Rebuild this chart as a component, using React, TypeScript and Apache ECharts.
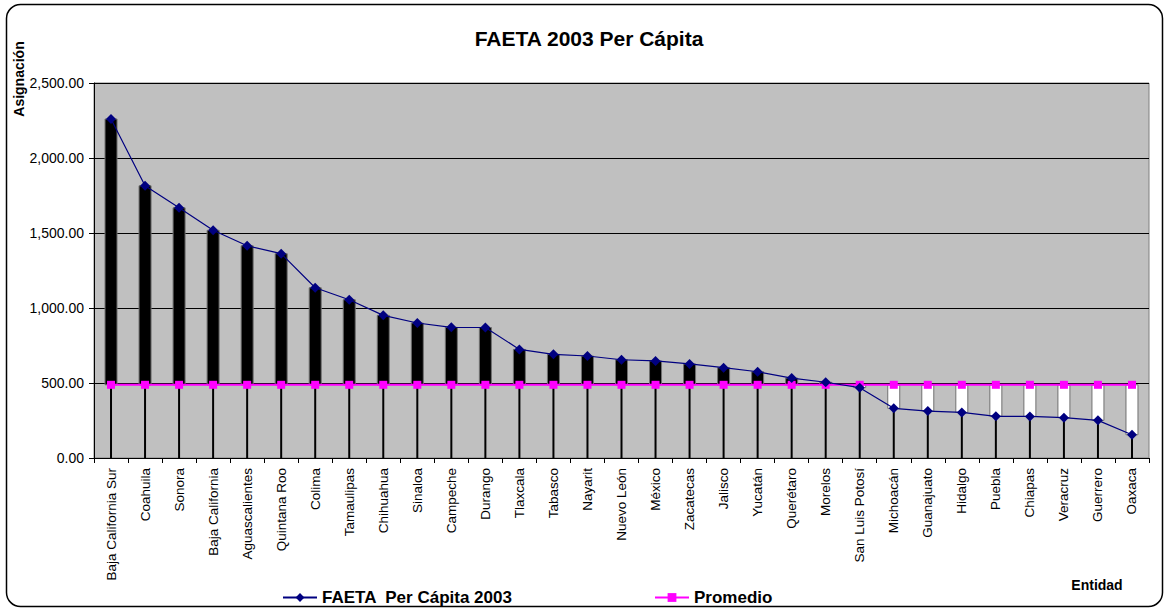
import React, { useEffect, useRef } from "react";
import * as echarts from "echarts";

const categories = [
  "Baja California Sur", "Coahuila", "Sonora", "Baja California", "Aguascalientes",
  "Quintana Roo", "Colima", "Tamaulipas", "Chihuahua", "Sinaloa", "Campeche",
  "Durango", "Tlaxcala", "Tabasco", "Nayarit", "Nuevo León", "México", "Zacatecas",
  "Jalisco", "Yucatán", "Querétaro", "Morelos", "San Luis Potosí", "Michoacán",
  "Guanajuato", "Hidalgo", "Puebla", "Chiapas", "Veracruz", "Guerrero", "Oaxaca",
];

const faeta = [
  2260, 1815, 1668, 1518, 1415, 1362, 1135, 1055, 951, 900, 871,
  870, 724, 691, 680, 655, 647, 627, 602, 575, 533, 505, 469, 331,
  313, 304, 278, 277, 269, 251, 155,
];

const promedio = [
  488, 488, 488, 488, 488, 488, 488, 488, 488, 488, 488,
  488, 488, 488, 488, 488, 488, 488, 488, 488, 488, 488, 488, 488,
  488, 488, 488, 488, 488, 488, 488,
];

const yTicks = { min: 0, max: 2500, interval: 500 };

const seriesNames = ["FAETA  Per Cápita 2003", "Promedio"];

const FONT = "Arial, 'Liberation Sans', sans-serif";

export default function App() {
  const ref = useRef<HTMLDivElement>(null);

  useEffect(() => {
    document.body.style.margin = "0";
    const chart = echarts.init(ref.current!, null, { renderer: "svg" });
    const fmt = (v: number) =>
      v.toLocaleString("en-US", { minimumFractionDigits: 2, maximumFractionDigits: 2 });

    const legendText = { fontFamily: FONT, fontSize: 17, fontWeight: "bold", color: "#000" };

    chart.setOption({
      animation: false,
      backgroundColor: "#ffffff",
      title: {
        text: "FAETA 2003 Per Cápita",
        left: 584,
        textAlign: "center",
        top: 23,
        textStyle: { fontFamily: FONT, fontSize: 21, fontWeight: "bold", color: "#000" },
      },
      grid: {
        left: 94,
        right: 16,
        top: 83,
        bottom: 151,
        show: true,
        backgroundColor: "#C0C0C0",
        borderColor: "#808080",
        borderWidth: 1,
      },
      legend: [
        {
          data: [seriesNames[0]],
          left: 277,
          top: 584,
          itemWidth: 34,
          itemHeight: 11,
          itemGap: 4,
          textStyle: legendText,
        },
        {
          data: [seriesNames[1]],
          left: 649,
          top: 584,
          itemWidth: 34,
          itemHeight: 11,
          textStyle: legendText,
        },
      ],
      xAxis: {
        type: "category",
        data: categories,
        boundaryGap: true,
        axisLine: { show: true, lineStyle: { color: "#000", width: 1 } },
        axisTick: { show: true, length: 5, alignWithLabel: false, lineStyle: { color: "#000" } },
        axisLabel: {
          rotate: 90,
          interval: 0,
          margin: 10,
          fontFamily: FONT,
          fontSize: 13.5,
          color: "#000",
        },
        splitLine: { show: false },
      },
      yAxis: {
        type: "value",
        min: yTicks.min,
        max: yTicks.max,
        interval: yTicks.interval,
        axisLine: { show: true, lineStyle: { color: "#000", width: 1 } },
        axisTick: { show: true, length: 5, lineStyle: { color: "#000" } },
        axisLabel: {
          margin: 10,
          fontFamily: FONT,
          fontSize: 14,
          color: "#000",
          formatter: (v: number) => fmt(v),
        },
        splitLine: { show: true, lineStyle: { color: "#000", width: 1 } },
      },
      series: [
        {
          type: "custom",
          name: "updown",
          z: 1,
          silent: true,
          encode: { x: 0, y: [1, 2] },
          data: categories.map((c, i) => [i, faeta[i], promedio[i]]),
          renderItem: (params: any, api: any) => {
            const i = api.value(0);
            const v = api.value(1);
            const p = api.value(2);
            const base = api.coord([i, 0]);
            const top = api.coord([i, Math.max(v, p)]);
            const a = api.coord([i, v]);
            const b = api.coord([i, p]);
            const w = 12;
            return {
              type: "group",
              children: [
                {
                  type: "line",
                  shape: { x1: base[0], y1: base[1], x2: top[0], y2: top[1] },
                  style: { stroke: "#000", lineWidth: 2 },
                },
                {
                  type: "rect",
                  shape: {
                    x: a[0] - w / 2,
                    y: Math.min(a[1], b[1]),
                    width: w,
                    height: Math.abs(a[1] - b[1]),
                  },
                  style: { fill: v > p ? "#000" : "#fff", stroke: "#707070", lineWidth: 1 },
                },
              ],
            };
          },
        },
        {
          type: "line",
          name: seriesNames[1],
          data: promedio,
          z: 3,
          symbol: "rect",
          symbolSize: 8,
          color: "#FF00FF",
          lineStyle: { color: "#FF00FF", width: 2 },
          itemStyle: { color: "#FF00FF" },
        },
        {
          type: "line",
          name: seriesNames[0],
          data: faeta,
          z: 4,
          symbol: "diamond",
          symbolSize: 10,
          color: "#000080",
          lineStyle: { color: "#000080", width: 1.2 },
          itemStyle: { color: "#000080" },
        },
      ],
      graphic: [
        {
          type: "rect",
          z: -10,
          shape: { x: 6.5, y: 4.5, width: 1156, height: 602, r: 14 },
          style: { fill: "none", stroke: "#000", lineWidth: 1.5 },
        },
        {
          type: "text",
          x: 19,
          y: 79,
          rotation: Math.PI / 2,
          style: {
            text: "Asignación",
            fontFamily: FONT,
            fontSize: 14,
            fontWeight: "bold",
            fill: "#000",
            align: "center",
            verticalAlign: "middle",
          },
        },
        {
          type: "text",
          x: 1097,
          y: 585,
          style: {
            text: "Entidad",
            fontFamily: FONT,
            fontSize: 14,
            fontWeight: "bold",
            fill: "#000",
            align: "center",
            verticalAlign: "middle",
          },
        },
      ],
    });

    return () => chart.dispose();
  }, []);

  return <div ref={ref} style={{ width: 1165, height: 609 }} />;
}
